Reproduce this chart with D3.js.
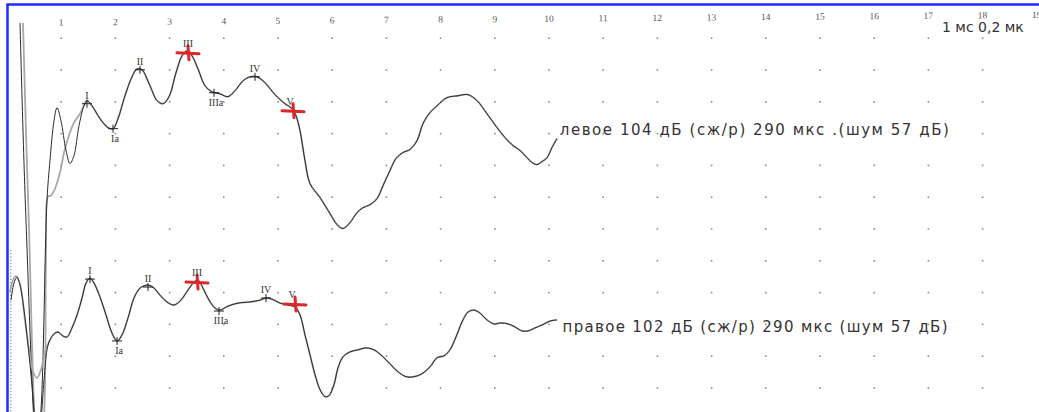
<!DOCTYPE html>
<html>
<head>
<meta charset="utf-8">
<script src="https://cdn.jsdelivr.net/npm/d3@7"></script>
<style>
  html, body { margin: 0; padding: 0; background: #fff; }
  svg { display: block; }
</style>
</head>
<body>
<svg id="chart" width="1039" height="412"></svg>
<script>
// ---- time axis (ms) printed along the top ----
const tickMs = [1, 2, 3, 4, 5, 6, 7, 8, 9, 10, 11, 12, 13, 14, 15, 16, 17, 18, 19];
const tickLabels = ["1", "2", "3", "4", "5", "6", "7", "8", "9", "10", "11", "12", "13", "14", "15", "16", "17", "18", "19"];

// ---- dotted reference grid: one column per ms, one row per 0.2 µV ----
const gridColsMs = [1, 2, 3, 4, 5, 6, 7, 8, 9, 10, 11, 12, 13, 14, 15, 16, 17, 18];
const gridRowsUv = [0, 0.2, 0.4, 0.6, 0.8, 1.0, 1.2, 1.4, 1.6, 1.8, 2.0, 2.2];

// ---- left ear: two overlaid sweeps, [ms, µV] ----
const leftHeadA = [
  [0.24, 0.726], [0.35, -0.515], [0.55, -1.96], [0.627, -1.707], [0.738, -0.39],
  [0.793, -0.14], [0.867, 0.11], [0.923, 0.193], [0.996, 0.111], [1.089, -0.076],
  [1.162, -0.158], [1.236, -0.108], [1.328, 0.08], [1.421, 0.205]
];
const leftHeadB = [
  [0.295, 0.726], [0.40, -0.50], [0.572, -1.96], [0.664, -1.83], [0.72, -0.70],
  [0.756, -0.366], [0.812, -0.36], [0.886, -0.316], [0.978, -0.215], [1.052, -0.09],
  [1.125, -0.001], [1.236, 0.099], [1.347, 0.155], [1.43, 0.215]
];
const leftTail = [
  [1.476, 0.237], [1.568, 0.205], [1.716, 0.124], [1.863, 0.068], [1.956, 0.061],
  [2.048, 0.124], [2.177, 0.268], [2.306, 0.387], [2.399, 0.437], [2.491, 0.431],
  [2.638, 0.331], [2.768, 0.237], [2.878, 0.218], [2.989, 0.262], [3.118, 0.412],
  [3.229, 0.519], [3.321, 0.55], [3.413, 0.519], [3.524, 0.437], [3.653, 0.331],
  [3.782, 0.293], [3.93, 0.28], [4.077, 0.262], [4.207, 0.30], [4.354, 0.362],
  [4.483, 0.387], [4.613, 0.387], [4.76, 0.35], [4.945, 0.275], [5.129, 0.218],
  [5.258, 0.187], [5.332, 0.143], [5.406, 0.049], [5.498, -0.14], [5.59, -0.284],
  [5.775, -0.372], [5.959, -0.473], [6.089, -0.542], [6.199, -0.567], [6.328, -0.53],
  [6.458, -0.467], [6.568, -0.436], [6.697, -0.417], [6.827, -0.379], [6.937, -0.298],
  [7.066, -0.202], [7.177, -0.127], [7.306, -0.089], [7.435, -0.07], [7.565, -0.014],
  [7.675, 0.093], [7.804, 0.162], [7.934, 0.205], [8.118, 0.256], [8.321, 0.268],
  [8.506, 0.275], [8.672, 0.237], [8.856, 0.155], [9.041, 0.068], [9.188, 0.005],
  [9.336, -0.045], [9.465, -0.076], [9.594, -0.121], [9.686, -0.152], [9.779, -0.165],
  [9.871, -0.146], [9.963, -0.121], [10.055, -0.058], [10.148, -0.001]
];
const leftPeakNames = ["I", "Ia", "II", "III", "IIIa", "IV", "V"];
const leftPeakMs = [1.476, 1.956, 2.454, 3.339, 3.819, 4.576, 5.277];
const leftPeakUv = [0.218, 0.061, 0.431, 0.538, 0.287, 0.387, 0.174];

// ---- right ear: two overlaid sweeps, [ms, µV] ----
const rightHeadA = [
  [0.074, 0.183], [0.129, 0.29], [0.185, 0.327], [0.24, 0.277], [0.314, 0.12],
  [0.387, -0.099], [0.461, -0.35], [0.517, -0.57], [0.572, -0.70], [0.627, -0.57],
  [0.683, -0.318], [0.738, -0.13], [0.793, -0.067], [0.867, -0.03]
];
const rightHeadB = [
  [0.055, 0.233], [0.111, 0.308], [0.166, 0.333], [0.24, 0.283], [0.332, 0.058],
  [0.406, -0.13], [0.48, -0.268], [0.553, -0.306], [0.627, -0.256], [0.701, -0.143],
  [0.775, -0.08], [0.867, -0.03]
];
const rightTail = [
  [0.941, -0.018], [1.033, -0.043], [1.107, -0.049], [1.199, 0.008], [1.292, 0.089],
  [1.384, 0.196], [1.458, 0.29], [1.531, 0.321], [1.605, 0.29], [1.716, 0.202],
  [1.827, 0.089], [1.937, -0.024], [2.03, -0.074], [2.122, -0.036], [2.232, 0.07],
  [2.343, 0.196], [2.454, 0.258], [2.583, 0.277], [2.694, 0.264], [2.823, 0.214],
  [2.952, 0.171], [3.081, 0.152], [3.21, 0.183], [3.339, 0.246], [3.45, 0.296],
  [3.524, 0.309], [3.616, 0.258], [3.727, 0.183], [3.838, 0.133], [3.93, 0.12],
  [4.077, 0.145], [4.262, 0.164], [4.483, 0.171], [4.668, 0.183], [4.779, 0.196],
  [4.889, 0.189], [5.037, 0.164], [5.185, 0.152], [5.314, 0.139], [5.406, 0.089],
  [5.498, -0.036], [5.59, -0.161], [5.683, -0.286], [5.775, -0.38], [5.867, -0.424],
  [5.941, -0.418], [6.033, -0.349], [6.107, -0.243], [6.199, -0.174], [6.328, -0.143],
  [6.476, -0.13], [6.624, -0.118], [6.771, -0.13], [6.919, -0.168], [7.066, -0.218],
  [7.214, -0.268], [7.362, -0.299], [7.509, -0.299], [7.657, -0.28], [7.804, -0.237],
  [7.934, -0.18], [8.063, -0.168], [8.173, -0.13], [8.284, -0.049], [8.395, 0.045],
  [8.506, 0.108], [8.616, 0.12], [8.727, 0.101], [8.856, 0.058], [8.985, 0.033],
  [9.114, 0.039], [9.244, 0.033], [9.373, 0.014], [9.502, -0.011], [9.613, -0.011],
  [9.742, 0.008], [9.871, 0.026], [10.018, 0.051], [10.148, 0.058]
];
const rightPeakNames = ["I", "Ia", "II", "III", "IIIa", "IV", "V"];
const rightPeakMs = [1.531, 2.03, 2.601, 3.506, 3.911, 4.779, 5.314];
const rightPeakUv = [0.315, -0.074, 0.265, 0.296, 0.114, 0.196, 0.158];

// peaks picked as the measured waves (drawn with red crosses)
const keyPeaks = ["III", "V"];
// troughs labelled below the curve
const troughPeaks = ["Ia", "IIIa"];

const captions = [
  "левое 104 дБ (сж/р) 290 мкс .(шум 57 дБ)",
  "правое 102 дБ (сж/р) 290 мкс  (шум 57 дБ)"
];
const scaleNote = "1 мс 0,2 мк";

// ---------------------------------------------------------------
const W = 1039, H = 412;
const svg = d3.select("#chart");

const x = d3.scaleLinear().domain([0, 19]).range([7, 7 + 54.2 * 19]);
const y = d3.scaleLinear().domain([0, 2.2]).range([388, 388 - 159 * 2.2]);

// vertical placement of each ear's baseline on the µV axis
const traceOffset = { left: 1.57, right: 0.37 };

svg.append("defs").append("clipPath").attr("id", "plotClip")
  .append("rect").attr("x", 9).attr("y", 6).attr("width", W - 9).attr("height", H - 6);

// dotted grid
const grid = svg.append("g").attr("class", "grid");
gridRowsUv.forEach(r => {
  grid.selectAll(null).data(gridColsMs).enter().append("rect")
    .attr("x", d => x(d) - 0.8)
    .attr("y", y(r) - 0.8)
    .attr("width", 1.6).attr("height", 1.6)
    .attr("fill", "#8a8a8a");
});

// time labels along the top (the printout runs slightly uphill)
svg.append("g")
  .attr("transform", "rotate(-0.45, 7, 26)")
  .selectAll("text").data(tickMs).enter().append("text")
  .attr("x", d => x(d))
  .attr("y", 26)
  .attr("text-anchor", "middle")
  .attr("font-family", "Liberation Serif, serif")
  .attr("font-size", 9.5)
  .attr("fill", "#555")
  .text((d, i) => tickLabels[i]);

// scale note in the top-right corner
svg.append("text")
  .attr("x", 942).attr("y", 32)
  .attr("font-family", "DejaVu Sans, sans-serif")
  .attr("font-size", 14)
  .attr("fill", "#333")
  .text(scaleNote);

// recording-start marker for the right ear
svg.append("line")
  .attr("x1", x(0.07)).attr("x2", x(0.07))
  .attr("y1", 250).attr("y2", H)
  .attr("stroke", "#666").attr("stroke-width", 1)
  .attr("stroke-dasharray", "1.2,2");

const plot = svg.append("g").attr("clip-path", "url(#plotClip)");

function drawEar(headA, headB, tail, offset) {
  const line = d3.line()
    .x(d => x(d[0]))
    .y(d => y(offset + d[1]))
    .curve(d3.curveCatmullRom.alpha(0.5));
  plot.append("path").datum(headB.concat(tail))
    .attr("d", line).attr("fill", "none")
    .attr("stroke", "#a8a8a8").attr("stroke-width", 1.8);
  plot.append("path").datum(headA.concat(tail))
    .attr("d", line).attr("fill", "none")
    .attr("stroke", "#2a2a2a").attr("stroke-width", 1);
}

drawEar(leftHeadA, leftHeadB, leftTail, traceOffset.left);
drawEar(rightHeadA, rightHeadB, rightTail, traceOffset.right);

function drawPeaks(names, msArr, uvArr, offset) {
  const g = svg.append("g");
  names.forEach((name, i) => {
    const px = x(msArr[i]);
    const py = y(offset + uvArr[i]);
    const isKey = keyPeaks.includes(name);
    const below = troughPeaks.includes(name);
    if (isKey) {
      g.append("line")
        .attr("x1", px - 11).attr("x2", px + 11).attr("y1", py).attr("y2", py + 1)
        .attr("stroke", "#e0262b").attr("stroke-width", 3).attr("stroke-linecap", "round");
      g.append("line")
        .attr("x1", px).attr("x2", px + 1).attr("y1", py - 7).attr("y2", py + 7)
        .attr("stroke", "#e0262b").attr("stroke-width", 3).attr("stroke-linecap", "round");
    } else {
      g.append("line")
        .attr("x1", px - 5).attr("x2", px + 5).attr("y1", py).attr("y2", py)
        .attr("stroke", "#222").attr("stroke-width", 1);
      g.append("line")
        .attr("x1", px).attr("x2", px).attr("y1", py - 4).attr("y2", py + 4)
        .attr("stroke", "#222").attr("stroke-width", 1);
    }
    g.append("text")
      .attr("x", px + (name === "V" ? -3 : (below ? 2 : 0)))
      .attr("y", below ? py + 13 : py - (isKey ? 6 : 5))
      .attr("text-anchor", "middle")
      .attr("font-family", "Liberation Serif, serif")
      .attr("font-size", 10)
      .attr("fill", "#333")
      .text(name);
  });
}

drawPeaks(leftPeakNames, leftPeakMs, leftPeakUv, traceOffset.left);
drawPeaks(rightPeakNames, rightPeakMs, rightPeakUv, traceOffset.right);

// sweep captions at the end of each trace
const captionAt = [
  { ms: 10.2, uv: traceOffset.left + 0.02, len: 389 },
  { ms: 10.25, uv: traceOffset.right - 0.02, len: 385 }
];
svg.append("g").selectAll("text").data(captions).enter().append("text")
  .attr("x", (d, i) => x(captionAt[i].ms))
  .attr("y", (d, i) => y(captionAt[i].uv))
  .attr("font-family", "DejaVu Sans, sans-serif")
  .attr("font-size", 15)
  .attr("fill", "#333")
  .attr("textLength", (d, i) => captionAt[i].len)
  .attr("lengthAdjust", "spacing")
  .text(d => d);

// blue frame
svg.append("rect")
  .attr("x", 7.5).attr("y", 4.5)
  .attr("width", W + 20).attr("height", H + 20)
  .attr("fill", "none")
  .attr("stroke", "#1f2bff").attr("stroke-width", 2.5);
</script>
</body>
</html>
